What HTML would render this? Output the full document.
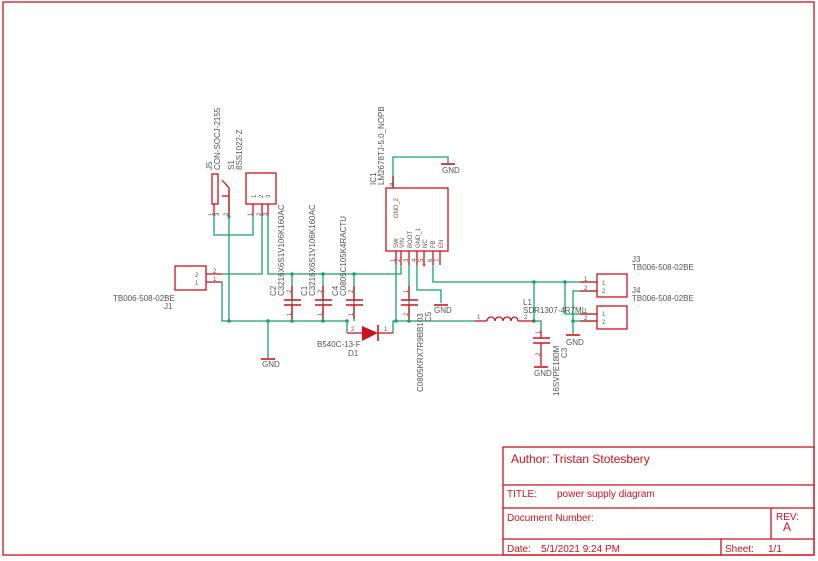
<!DOCTYPE html>
<html><head><style>
html,body{margin:0;padding:0;background:#fff;}
svg{display:block;font-family:"Liberation Sans",sans-serif;}
.r{stroke:#c8141e;fill:none;stroke-width:1.3}
.g{stroke:#1aa06a;fill:none;stroke-width:1.3}
.t{fill:#555;font-size:8px}
.p{fill:#555;font-size:6px}
.tb{fill:#c8141e}
</style></head><body>
<svg width="818" height="561" viewBox="0 0 818 561">
<rect x="3" y="2" width="811" height="553" class="r" stroke-width="1"/>
<!-- title block -->
<g class="r" stroke-width="1.2">
<rect x="503" y="447" width="311" height="108"/>
<line x1="503" y1="485" x2="814" y2="485"/>
<line x1="503" y1="508" x2="814" y2="508"/>
<line x1="503" y1="539" x2="814" y2="539"/>
<line x1="771" y1="508" x2="771" y2="539"/>
<line x1="721" y1="539" x2="721" y2="555"/>
</g>
<text x="511" y="463" class="tb" font-size="12">Author: Tristan Stotesbery</text>
<text x="507" y="497" class="tb" font-size="10">TITLE:</text>
<text x="557" y="497" class="tb" font-size="10">power supply diagram</text>
<text x="507" y="521" class="tb" font-size="10">Document Number:</text>
<text x="776" y="520" class="tb" font-size="10">REV:</text>
<text x="783" y="531" class="tb" font-size="12">A</text>
<text x="507" y="552" class="tb" font-size="10">Date:</text>
<text x="541" y="552" class="tb" font-size="10">5/1/2021 9:24 PM</text>
<text x="725" y="552" class="tb" font-size="10">Sheet:</text>
<text x="768" y="552" class="tb" font-size="10">1/1</text>

<!-- wires -->
<g class="g">
<polyline points="214,216 214,235 253,235 253,216"/>
<polyline points="262,216 262,274 222,274"/>
<polyline points="268,216 268,274 401,274 401,265"/>
<polyline points="222,282 222,321 347,321 347,333"/>
<polyline points="229,190 229,321"/>
<line x1="268" y1="321" x2="268" y2="358"/>
<line x1="292" y1="274" x2="292" y2="321"/>
<line x1="323" y1="274" x2="323" y2="321"/>
<line x1="354" y1="274" x2="354" y2="321"/>
<polyline points="393,333 393,321 475,321"/>
<line x1="396" y1="265" x2="396" y2="321"/>
<line x1="409" y1="265" x2="409" y2="321"/>
<polyline points="417,265 417,290 441,290 441,303"/>
<polyline points="433,265 433,282 597,282"/>
<polyline points="393,188 393,157 448,157 448,164"/>
<polyline points="534,321 534,282"/>
<polyline points="534,321 541,321 541,330"/>
<polyline points="565,282 565,314 597,314"/>
<polyline points="597,291 573,291 573,334"/>
<line x1="573" y1="321" x2="597" y2="321"/>
</g>
<g fill="#1aa06a">
<circle cx="229" cy="321" r="1.8"/><circle cx="268" cy="321" r="1.8"/><circle cx="292" cy="321" r="1.8"/><circle cx="323" cy="321" r="1.8"/><circle cx="347" cy="321" r="1.8"/>
<circle cx="292" cy="274" r="1.8"/><circle cx="323" cy="274" r="1.8"/><circle cx="354" cy="274" r="1.8"/>
<circle cx="396" cy="321" r="1.8"/><circle cx="409" cy="321" r="1.8"/><circle cx="534" cy="321" r="1.8"/><circle cx="534" cy="282" r="1.8"/><circle cx="565" cy="282" r="1.8"/><circle cx="573" cy="321" r="1.8"/><circle cx="229" cy="217" r="1.5"/>
</g>

<!-- components -->
<g class="r">
<!-- J5 -->
<rect x="212" y="174" width="6" height="30"/>
<line x1="214" y1="204" x2="214" y2="216"/>
<polyline points="222,180 229,188 229,216"/>
<polyline points="222,196 229,196"/>
<!-- S1 -->
<rect x="246" y="173" width="30" height="31"/>
<line x1="253" y1="204" x2="253" y2="216"/><line x1="262" y1="204" x2="262" y2="216"/><line x1="268" y1="204" x2="268" y2="216"/>
<!-- J1 -->
<rect x="175" y="266" width="31" height="24"/>
<line x1="206" y1="274" x2="222" y2="274"/><line x1="206" y1="282" x2="222" y2="282"/>
<!-- caps -->
<g stroke-width="1.6">
<line x1="284" y1="300" x2="301" y2="300"/><line x1="284" y1="305" x2="301" y2="305"/>
<line x1="315" y1="300" x2="332" y2="300"/><line x1="315" y1="305" x2="332" y2="305"/>
<line x1="346" y1="300" x2="363" y2="300"/><line x1="346" y1="305" x2="363" y2="305"/>
<line x1="401" y1="300" x2="418" y2="300"/><line x1="401" y1="305" x2="418" y2="305"/>
<line x1="533" y1="338" x2="550" y2="338"/><line x1="533" y1="343" x2="550" y2="343"/>
</g>
<line x1="292" y1="286" x2="292" y2="300"/><line x1="292" y1="305" x2="292" y2="319"/>
<line x1="323" y1="286" x2="323" y2="300"/><line x1="323" y1="305" x2="323" y2="319"/>
<line x1="354" y1="286" x2="354" y2="300"/><line x1="354" y1="305" x2="354" y2="319"/>
<line x1="409" y1="286" x2="409" y2="300"/><line x1="409" y1="305" x2="409" y2="319"/>
<line x1="541" y1="330" x2="541" y2="338"/><line x1="541" y1="343" x2="541" y2="366"/>
<!-- IC1 -->
<rect x="386" y="188" width="62" height="63"/>
<line x1="393" y1="176" x2="393" y2="188"/>
<line x1="396" y1="251" x2="396" y2="265"/><line x1="401" y1="251" x2="401" y2="265"/><line x1="409" y1="251" x2="409" y2="265"/><line x1="417" y1="251" x2="417" y2="265"/><line x1="424" y1="251" x2="424" y2="265"/><line x1="433" y1="251" x2="433" y2="265"/><line x1="440" y1="251" x2="440" y2="265"/>
<!-- diode -->
<line x1="347" y1="333" x2="362" y2="333"/><line x1="378" y1="333" x2="393" y2="333"/>
<line x1="378" y1="325" x2="378" y2="341" stroke-width="1.6"/>
<!-- inductor -->
<line x1="475" y1="321" x2="487" y2="321"/><line x1="518" y1="321" x2="534" y2="321"/>
<path d="M487,321 a4,4 0 0 1 8,0 a4,4 0 0 1 8,0 a4,4 0 0 1 8,0 a3.5,4 0 0 1 7,0"/>
<!-- J3 J4 -->
<rect x="597" y="274" width="30" height="23"/>
<rect x="597" y="306" width="30" height="23"/>
<line x1="580" y1="282" x2="597" y2="282"/><line x1="580" y1="291" x2="597" y2="291"/>
<line x1="580" y1="314" x2="597" y2="314"/><line x1="580" y1="321" x2="597" y2="321"/>
<!-- GND bars -->
<line x1="261" y1="359" x2="275" y2="359" stroke-width="1.6"/>
<line x1="441" y1="164" x2="455" y2="164" stroke-width="1.6"/>
<line x1="434" y1="305" x2="448" y2="305" stroke-width="1.6"/>
<line x1="534" y1="367" x2="548" y2="367" stroke-width="1.6"/>
<line x1="566" y1="335" x2="580" y2="335" stroke-width="1.6"/>
</g>
<polygon points="362,326 362,341 378,333" fill="#c8141e"/>
<text x="422" y="268" fill="#c8141e" font-size="7">×</text>

<!-- labels -->
<g class="t">
<text x="262" y="367">GND</text>
<text x="442" y="173">GND</text>
<text x="434" y="313">GND</text>
<text x="534" y="376">GND</text>
<text x="566" y="345">GND</text>
<text x="113" y="301">TB006-508-02BE</text>
<text x="164" y="309">J1</text>
<text x="317" y="347">B540C-13-F</text>
<text x="348" y="356">D1</text>
<text x="523" y="305">L1</text>
<text x="523" y="313">SDR1307-4R7ML</text>
<text x="632" y="262">J3</text>
<text x="632" y="270">TB006-508-02BE</text>
<text x="632" y="293">J4</text>
<text x="632" y="301">TB006-508-02BE</text>
<text transform="translate(212,170) rotate(-90)">J5</text>
<text transform="translate(220,170) rotate(-90)">CON-SOCJ-2155</text>
<text transform="translate(234,170) rotate(-90)">S1</text>
<text transform="translate(242,170) rotate(-90)">8SS1022-Z</text>
<text transform="translate(376,185) rotate(-90)">IC1</text>
<text transform="translate(384,185) rotate(-90)">LM2678TJ-5.0_NOPB</text>
<text transform="translate(276,296) rotate(-90)">C2</text>
<text transform="translate(284,296) rotate(-90)">C3216X6S1V106K160AC</text>
<text transform="translate(307,296) rotate(-90)">C1</text>
<text transform="translate(315,296) rotate(-90)">C3216X6S1V106K160AC</text>
<text transform="translate(338,296) rotate(-90)">C4</text>
<text transform="translate(346,296) rotate(-90)">C0805C105K4RACTU</text>
<text transform="translate(431,322) rotate(-90)">C5</text>
<text transform="translate(423,392) rotate(-90)">C0805KRX7R9BB103</text>
<text transform="translate(567,358) rotate(-90)">C3</text>
<text transform="translate(559,396) rotate(-90)">16SVPE180M</text>
</g>
<g class="p">
<text transform="translate(398,218) rotate(-90)">GND_2</text>
<text transform="translate(398,248) rotate(-90)">SW</text>
<text transform="translate(404,248) rotate(-90)">VIN</text>
<text transform="translate(412,248) rotate(-90)">BOOT</text>
<text transform="translate(420,248) rotate(-90)">GND_1</text>
<text transform="translate(427,248) rotate(-90)">NC</text>
<text transform="translate(435,248) rotate(-90)">FB</text>
<text transform="translate(443,248) rotate(-90)">EN</text>
<text transform="translate(394,186) rotate(-90)">8</text>
<text transform="translate(395,262) rotate(-90)">1</text><text transform="translate(400,262) rotate(-90)">2</text><text transform="translate(408,262) rotate(-90)">3</text><text transform="translate(416,262) rotate(-90)">4</text><text transform="translate(423,262) rotate(-90)">5</text><text transform="translate(432,262) rotate(-90)">6</text><text transform="translate(439,262) rotate(-90)">7</text>
<text transform="translate(213,216) rotate(-90)">1</text><text transform="translate(219,216) rotate(-90)">3</text><text transform="translate(228,216) rotate(-90)">2</text>
<text transform="translate(252,216) rotate(-90)">1</text><text transform="translate(261,216) rotate(-90)">2</text><text transform="translate(267,216) rotate(-90)">3</text>
<text transform="translate(256,198) rotate(-90)">1</text><text transform="translate(263,198) rotate(-90)">2</text><text transform="translate(270,198) rotate(-90)">3</text>
<text transform="translate(291,293) rotate(-90)">2</text><text transform="translate(291,316) rotate(-90)">1</text>
<text transform="translate(322,293) rotate(-90)">2</text><text transform="translate(322,316) rotate(-90)">1</text>
<text transform="translate(353,293) rotate(-90)">2</text><text transform="translate(353,316) rotate(-90)">1</text>
<text transform="translate(408,293) rotate(-90)">1</text><text transform="translate(408,316) rotate(-90)">2</text>
<text transform="translate(540,334) rotate(-90)">1</text><text transform="translate(540,356) rotate(-90)">2</text>
<text x="195" y="277">2</text><text x="195" y="285">1</text>
<text x="213" y="273">2</text><text x="213" y="281">1</text>
<text x="351" y="331">2</text><text x="384" y="331">1</text>
<text x="477" y="319">1</text><text x="524" y="319">2</text>
<text x="584" y="281">1</text><text x="584" y="290">2</text>
<text x="584" y="313">1</text><text x="584" y="320">2</text>
<text x="602" y="285">1</text><text x="602" y="293">2</text>
<text x="602" y="316">1</text><text x="602" y="324">2</text>
</g>
</svg>
</body></html>
